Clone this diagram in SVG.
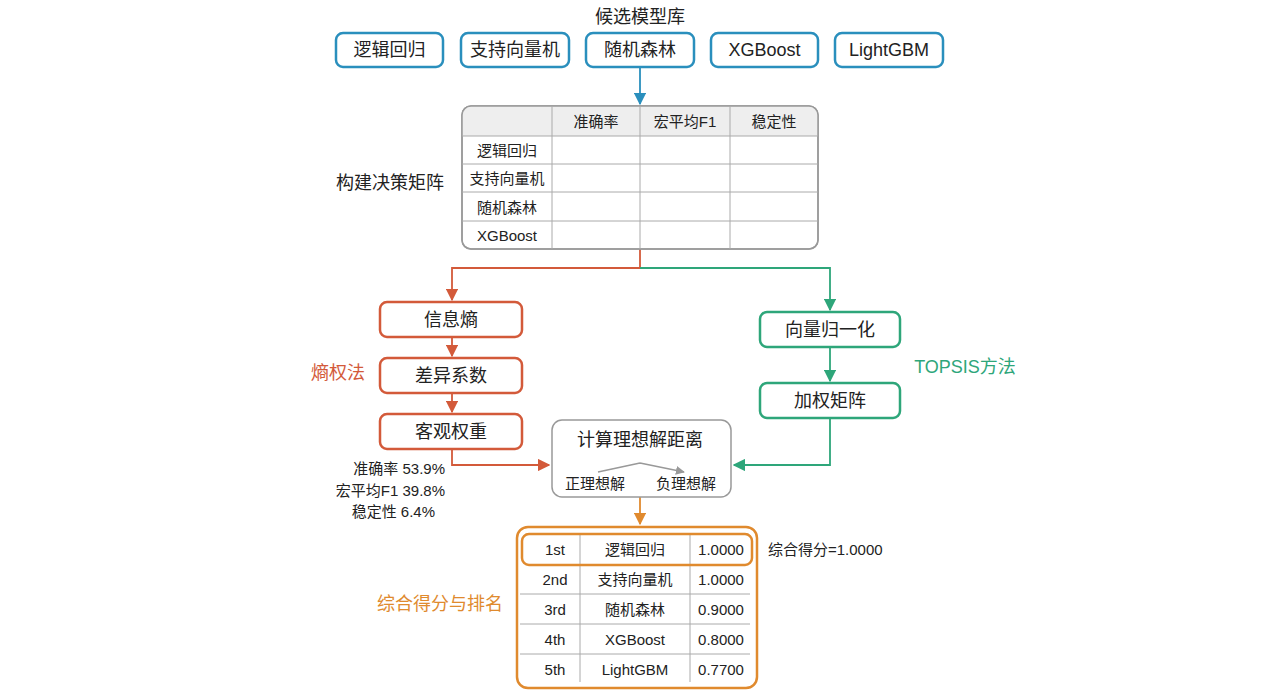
<svg xmlns="http://www.w3.org/2000/svg" width="1280" height="698" viewBox="0 0 1280 698">
<defs>
<style>
text{font-family:"Liberation Sans","Noto Sans CJK SC",sans-serif;fill:#222;text-anchor:middle;dominant-baseline:central}
.m{fill:#fff;stroke:#2a8fbd;stroke-width:2.5}
.r{fill:#fff;stroke:#d35a3a;stroke-width:2.5}
.g{fill:#fff;stroke:#2ea67a;stroke-width:2.5}
.n{font-size:18px}
.s{font-size:15px}
.grid{stroke:#aaa;stroke-width:1;fill:none}
</style>
<marker id="ab" viewBox="0 0 10 10" refX="9" refY="5" markerWidth="7" markerHeight="7" orient="auto"><path d="M0,0L10,5L0,10z" fill="#2a8fbd"/></marker>
<marker id="ar" viewBox="0 0 10 10" refX="9" refY="5" markerWidth="7" markerHeight="7" orient="auto"><path d="M0,0L10,5L0,10z" fill="#d35a3a"/></marker>
<marker id="ag" viewBox="0 0 10 10" refX="9" refY="5" markerWidth="7" markerHeight="7" orient="auto"><path d="M0,0L10,5L0,10z" fill="#2ea67a"/></marker>
<marker id="ao" viewBox="0 0 10 10" refX="9" refY="5" markerWidth="7" markerHeight="7" orient="auto"><path d="M0,0L10,5L0,10z" fill="#e08a2e"/></marker>
<marker id="ay" viewBox="0 0 10 10" refX="9" refY="5" markerWidth="6" markerHeight="6" orient="auto"><path d="M0,0L10,5L0,10z" fill="#999"/></marker>
</defs>
<rect width="1280" height="698" fill="#fff"/>
<g id="connectors" fill="none" stroke-width="1.8">
<path d="M640,67V104" stroke="#2a8fbd" marker-end="url(#ab)"/>
<path d="M640,249V268H452V300" stroke="#d35a3a" marker-end="url(#ar)"/>
<path d="M640,268H830V310" stroke="#2ea67a" marker-end="url(#ag)"/>
<path d="M452,337V356" stroke="#d35a3a" marker-end="url(#ar)"/>
<path d="M452,393V412" stroke="#d35a3a" marker-end="url(#ar)"/>
<path d="M830,347V381" stroke="#2ea67a" marker-end="url(#ag)"/>
<path d="M452,449V465H549" stroke="#d35a3a" marker-end="url(#ar)"/>
<path d="M830,418V465H734" stroke="#2ea67a" marker-end="url(#ag)"/>
<path d="M640,497V524" stroke="#e08a2e" marker-end="url(#ao)"/>
</g>
<text x="640" y="17" class="n">候选模型库</text>
<g id="m1"><rect x="336" y="33" width="107" height="34" rx="7" class="m"/><text x="389.5" y="50" class="n">逻辑回归</text></g>
<g id="m2"><rect x="461" y="33" width="108" height="34" rx="7" class="m"/><text x="515" y="50" class="n">支持向量机</text></g>
<g id="m3"><rect x="586" y="33" width="108" height="34" rx="7" class="m"/><text x="640" y="50" class="n">随机森林</text></g>
<g id="m4"><rect x="711" y="33" width="107" height="34" rx="7" class="m"/><text x="764.5" y="50" class="n">XGBoost</text></g>
<g id="m5"><rect x="835" y="33" width="108" height="34" rx="7" class="m"/><text x="889" y="50" class="n">LightGBM</text></g>
<g id="matrix">
<rect x="462" y="106" width="356" height="143" rx="9" fill="#fff" stroke="#999" stroke-width="1.5"/>
<path d="M471,106H809a9,9 0 0 1 9,9V136H462V115a9,9 0 0 1 9,-9z" fill="#eee"/>
<rect x="462" y="106" width="356" height="143" rx="9" fill="none" stroke="#999" stroke-width="1.5"/>
<path class="grid" d="M462,136H818M462,164H818M462,192H818M462,221H818M552,106V249M640,106V249M730,106V249"/>
<text x="596" y="121" class="s">准确率</text><text x="685" y="121" class="s">宏平均F1</text><text x="774" y="121" class="s">稳定性</text>
<text x="507" y="150" class="s">逻辑回归</text><text x="507" y="178" class="s">支持向量机</text><text x="507" y="207" class="s">随机森林</text><text x="507" y="235" class="s">XGBoost</text>
</g>
<text x="390" y="183" class="n">构建决策矩阵</text>
<g id="e1"><rect x="380" y="302" width="142" height="35" rx="7" class="r"/><text x="451" y="320" class="n">信息熵</text></g>
<g id="e2"><rect x="380" y="358" width="142" height="35" rx="7" class="r"/><text x="451" y="376" class="n">差异系数</text></g>
<g id="e3"><rect x="380" y="414" width="142" height="35" rx="7" class="r"/><text x="451" y="432" class="n">客观权重</text></g>
<text x="338" y="373" class="n" style="fill:#d35a3a">熵权法</text>
<g id="t1"><rect x="760" y="312" width="140" height="35" rx="7" class="g"/><text x="830" y="330" class="n">向量归一化</text></g>
<g id="t2"><rect x="760" y="383" width="140" height="35" rx="7" class="g"/><text x="830" y="401" class="n">加权矩阵</text></g>
<text x="965" y="367" class="n" style="fill:#2ea67a">TOPSIS方法</text>
<g id="dist">
<rect x="552" y="420" width="179" height="77" rx="10" fill="#fff" stroke="#999" stroke-width="1.5"/>
<text x="640" y="440" class="n">计算理想解距离</text>
<path d="M640,463L598,472M640,463L684,472" stroke="#999" stroke-width="1.5" fill="none" marker-end="url(#ay)"/>
<text x="595" y="483" class="s">正理想解</text><text x="686" y="483" class="s">负理想解</text>
</g>
<g style="font-size:15px">
<text x="445" y="468" class="s" style="text-anchor:end">准确率 53.9%</text>
<text x="445" y="490" class="s" style="text-anchor:end">宏平均F1 39.8%</text>
<text x="435" y="511" class="s" style="text-anchor:end">稳定性 6.4%</text>
</g>
<g id="rank">
<rect x="517" y="527" width="240" height="161" rx="11" fill="#fff" stroke="#e08a2e" stroke-width="2.5"/>
<path class="grid" d="M520,594H750M520,624H750M520,654H750M580,565V682M690,565V682"/>
<path class="grid" d="M580,534V565M690,534V565"/>
<rect x="522" y="534" width="230" height="31" rx="7" fill="none" stroke="#e08a2e" stroke-width="2.5"/>
<text x="555" y="549" class="s">1st</text><text x="635" y="549" class="s">逻辑回归</text><text x="721" y="549" class="s">1.0000</text>
<text x="555" y="579" class="s">2nd</text><text x="635" y="579" class="s">支持向量机</text><text x="721" y="579" class="s">1.0000</text>
<text x="555" y="609" class="s">3rd</text><text x="635" y="609" class="s">随机森林</text><text x="721" y="609" class="s">0.9000</text>
<text x="555" y="639" class="s">4th</text><text x="635" y="639" class="s">XGBoost</text><text x="721" y="639" class="s">0.8000</text>
<text x="555" y="669" class="s">5th</text><text x="635" y="669" class="s">LightGBM</text><text x="721" y="669" class="s">0.7700</text>
</g>
<text x="768" y="549" class="s" style="text-anchor:start">综合得分=1.0000</text>
<text x="440" y="604" class="n" style="fill:#e08a2e">综合得分与排名</text>
</svg>
